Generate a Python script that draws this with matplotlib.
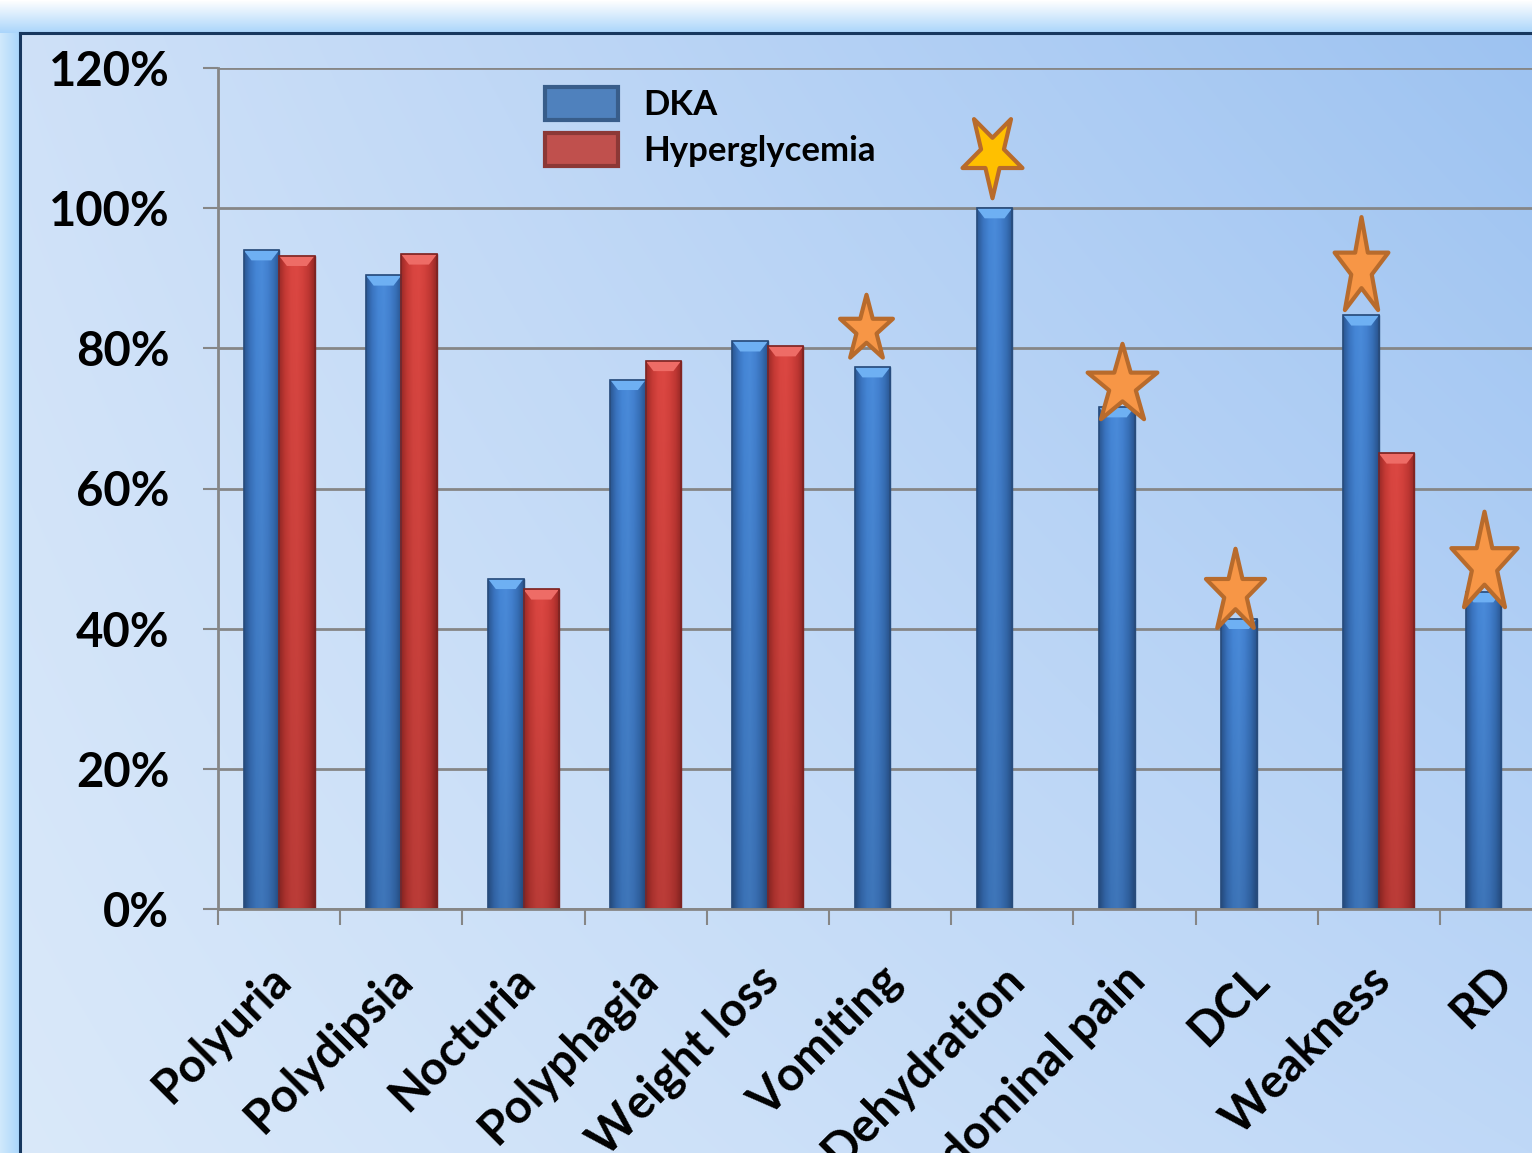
import numpy as np
import matplotlib
matplotlib.use("Agg")
import matplotlib.pyplot as plt
from matplotlib.patches import Patch
from matplotlib.lines import Line2D
from matplotlib.markers import MarkerStyle
from matplotlib.transforms import Affine2D, ScaledTranslation
from matplotlib.colors import to_rgb

# datos
categorias = ["Polyuria", "Polydipsia", "Nocturia", "Polyphagia", "Weight loss",
              "Vomiting", "Dehydration", "Abdominal pain", "DCL", "Weakness", "RD"]
dka = [94.0, 90.4, 47.1, 75.5, 81.0, 77.3, 100.0, 71.6, 41.4, 84.7, 45.2]
hiperglucemia = [93.2, 93.4, 45.6, 78.2, 80.3, np.nan, np.nan, np.nan, np.nan, 65.0, np.nan]

# estrellas (marcan diferencias)
estrella_x = [4.80, 5.83, 6.90, 7.82, 8.85, 9.86]
estrella_nivel = [82.7, 107.8, 74.8, 45.3, 91.4, 49.2]

y_ticks = [0, 20, 40, 60, 80, 100, 120]

plt.rcParams['font.family'] = ['Lato', 'DejaVu Sans']
plt.rcParams['font.weight'] = 'bold'

W, H = 1532, 1153
fig = plt.figure(figsize=(W / 100, H / 100), dpi=100)

# fondo degradado
yy, xx = np.mgrid[0:H, 0:W]
u = xx / W
v = yy / H
c_tl = np.array(to_rgb('#cfe1f8'))
c_tr = np.array(to_rgb('#9cc2f1'))
c_bl = np.array(to_rgb('#dae9fa'))
c_br = np.array(to_rgb('#bfd8f7'))
img = ((1 - u)[..., None] * (1 - v)[..., None] * c_tl + u[..., None] * (1 - v)[..., None] * c_tr
       + (1 - u)[..., None] * v[..., None] * c_bl + u[..., None] * v[..., None] * c_br)
glow = np.array(to_rgb('#a8d4fb'))
top = yy < 33
t = (yy / 33.0)[..., None]
img = np.where(top[..., None], (1 - t) * np.array([1.0, 1.0, 1.0]) + t * glow, img)
left = (xx < 20) & (yy >= 33)
s = (xx / 20.0)[..., None]
img = np.where(left[..., None], (1 - s) * np.array(to_rgb('#cfe8fc')) + s * glow, img)

bg = fig.add_axes([0, 0, 1, 1])
bg.imshow(img, aspect='auto', extent=(0, W, H, 0))
bg.set_xlim(0, W)
bg.set_ylim(H, 0)
bg.axis('off')

fig.add_artist(Line2D([20 / W, 20 / W], [0, 1 - 33 / H], color='#17375e', lw=2.2))
fig.add_artist(Line2D([20 / W, 1], [1 - 33 / H, 1 - 33 / H], color='#17375e', lw=2.2))

# ejes principales
ax_left = 218 / W
ax_bottom = (H - 909) / H
ax_w = 11 * 122.2 / W
ax_h = 841 / H
ax = fig.add_axes([ax_left, ax_bottom, ax_w, ax_h])
ax.set_facecolor('none')

x = np.arange(len(categorias))
ancho = 0.29
barras_dka = ax.bar(x - ancho / 2, dka, ancho, color='#3f7ccc', edgecolor='#284c7c', lw=1, zorder=3)
barras_hip = ax.bar(x + ancho / 2, hiperglucemia, ancho, color='#d43f3a', edgecolor='#7e2422', lw=1, zorder=3)

perfil_azul = ['#2b5894', '#3a74c0', '#4586d6', '#4a8bda', '#4381d0', '#3770b8', '#2a5590']
perfil_rojo = ['#9e2b28', '#c63a35', '#d94540', '#dc4742', '#d3413c', '#bf3733', '#962825']


def sombrear(barras, perfil, bisel):
    cols = np.array([to_rgb(c) for c in perfil])
    fila = np.array([np.interp(np.linspace(0, 1, 40), np.linspace(0, 1, len(cols)), cols[:, k])
                     for k in range(3)]).T
    vert = np.linspace(1.0, 0.85, 60)[:, None, None]
    grad = np.clip(fila[None, :, :] * vert, 0, 1)
    for b in barras:
        hgt = b.get_height()
        if not np.isfinite(hgt):
            continue
        x0, w = b.get_x(), b.get_width()
        im = ax.imshow(grad, extent=(x0, x0 + w, 0, hgt), aspect='auto', zorder=3.5)
        im.set_clip_path(b)
        bh = 1.45
        ins = w * 0.22
        ax.fill([x0, x0 + w, x0 + w - ins, x0 + ins], [hgt, hgt, hgt - bh, hgt - bh],
                color=bisel, zorder=3.6, lw=0)
        ax.add_patch(plt.Rectangle((x0, 0), w, hgt, fill=False, edgecolor=b.get_edgecolor(),
                                   lw=1.2, zorder=3.7))


sombrear(barras_dka, perfil_azul, '#6eb0f3')
sombrear(barras_hip, perfil_rojo, '#ee6c66')

# estrellas: cada una algo estirada, como en el original
tam = [50, 63, 60, 63, 74, 76]
estiro = [0.80, 0.72, 0.88, 0.71, 0.55, 0.66]
giro = [0, 180, 0, 0, 0, 0]
relleno = ['#f79646', '#ffc000', '#f79646', '#f79646', '#f79646', '#f79646']
base = MarkerStyle('*').get_path()
for xi, yi, ms, sx, g, fc in zip(estrella_x, estrella_nivel, tam, estiro, giro, relleno):
    forma = base.transformed(Affine2D().rotate_deg(g).scale(sx, 1.0))
    ax.plot(xi, yi, marker=forma, ms=ms, mfc=fc, mec='#b86b2c', mew=3,
            ls='none', zorder=5, clip_on=False)

ax.set_xlim(-0.5, len(categorias) - 0.5)
ax.set_ylim(0, 120)
ax.set_yticks(y_ticks)
ax.set_yticklabels([f"{v}%" for v in y_ticks], fontsize=34, fontweight='bold')
ax.yaxis.grid(True, color='#868686', lw=2, zorder=1)
ax.set_axisbelow(True)
ax.tick_params(axis='y', length=11, width=1.5, color='#868686', pad=24)

ax.set_xticks(x)
ax.set_xticks(np.arange(-0.5, len(categorias) + 0.5, 1), minor=True)
ax.tick_params(axis='x', which='major', length=0, pad=46)
ax.tick_params(axis='x', which='minor', length=11.5, width=1.5, color='#868686')
ax.set_xticklabels(categorias, rotation=45, ha='right', va='center', rotation_mode='anchor',
                   fontsize=34, fontweight='bold')
desplaza = ScaledTranslation(3 / 72, 0, fig.dpi_scale_trans)
for lab in ax.get_xticklabels():
    lab.set_transform(lab.get_transform() + desplaza)

for lado in ['top', 'right']:
    ax.spines[lado].set_visible(False)
for lado in ['left', 'bottom']:
    ax.spines[lado].set_color('#868686')
    ax.spines[lado].set_linewidth(2)
ax.spines['bottom'].set_zorder(4)

# leyenda
manejadores = [Patch(facecolor='#4f81bd', edgecolor='#385d8a', lw=3),
               Patch(facecolor='#c0504d', edgecolor='#8c3836', lw=3)]
ax.legend(manejadores, ["DKA", "Hyperglycemia"], loc='upper left', bbox_to_anchor=(0.243, 0.977),
          frameon=False, prop={'size': 25, 'weight': 'bold'}, handlelength=2.1, handleheight=1.05,
          labelspacing=0.35, handletextpad=0.75, borderpad=0, borderaxespad=0)

fig.savefig("out.png", dpi=100)
